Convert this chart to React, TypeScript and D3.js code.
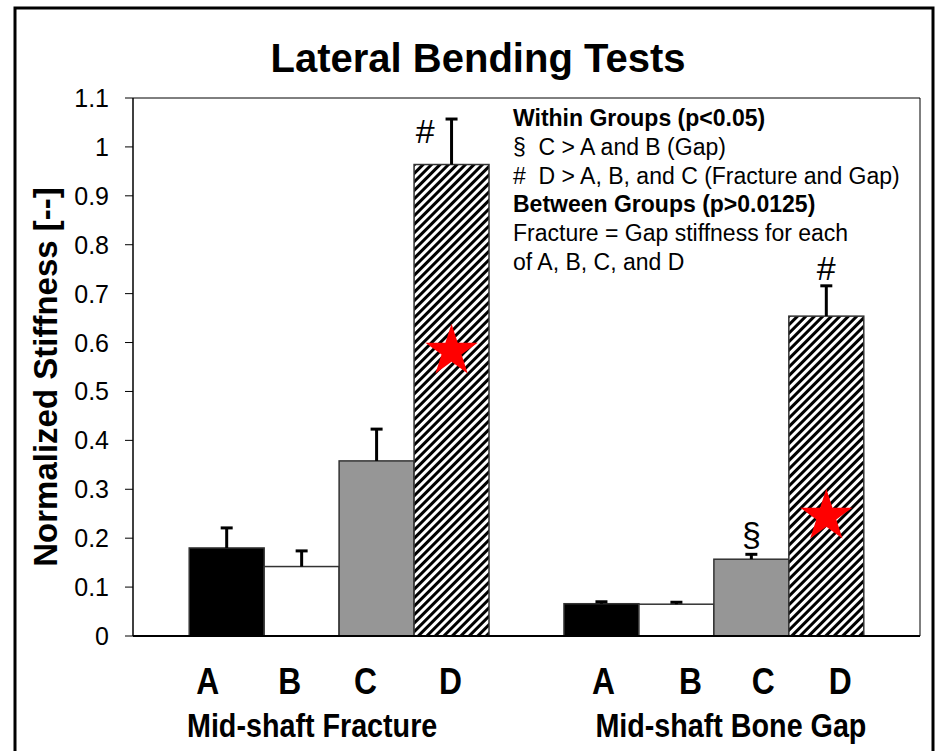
import React from 'react';
import * as d3 from 'd3';

// groups and conditions
const groups = ['Mid-shaft Fracture', 'Mid-shaft Bone Gap'];
const conditions = ['A', 'B', 'C', 'D'];

// mean normalized stiffness, and +SD error, per group
const fractureMeans = [0.18, 0.142, 0.358, 0.964];
const fractureErrors = [0.041, 0.032, 0.065, 0.093];
const gapMeans = [0.066, 0.065, 0.157, 0.654];
const gapErrors = [0.004, 0.004, 0.01, 0.062];

const yTicks = [0, 0.1, 0.2, 0.3, 0.4, 0.5, 0.6, 0.7, 0.8, 0.9, 1, 1.1];

// red stars drawn inside the D bars (value of star centre)
const starGroups = ['Mid-shaft Fracture', 'Mid-shaft Bone Gap'];
const starValues = [0.582, 0.245];

// significance symbols: group, condition, text, value of baseline
const symbolGroups = ['Mid-shaft Fracture', 'Mid-shaft Bone Gap', 'Mid-shaft Bone Gap'];
const symbolConds = ['D', 'D', 'C'];
const symbolTexts = ['#', '#', '§'];
const symbolValues = [1.008, 0.728, 0.184];

const noteLines = [
  'Within Groups (p<0.05)',
  '§  C > A and B (Gap)',
  '#  D > A, B, and C (Fracture and Gap)',
  'Between Groups (p>0.0125)',
  'Fracture = Gap stiffness for each',
  'of A, B, C, and D',
];
const noteBold = [true, false, false, true, false, false];

const fills = ['#000000', '#ffffff', '#969696', 'url(#hatch)'];

const font = '"Liberation Sans", Arial, Helvetica, sans-serif';

// the labels under the bars were placed by hand in the original, a bit off-centre
const catNudge = [[-19, -12, -11, -1], [2, 14, 12, 14]];
const groupNudge = [-27, 17];

export default function App() {
  const width = 936;
  const height = 751;
  const left = 133, right = 920, top = 98, bottom = 636;

  const x0 = d3.scaleBand().domain(groups).range([left, right]).paddingInner(0.2).paddingOuter(0.15);
  const x1 = d3.scaleBand().domain(conditions).range([0, x0.bandwidth()]);
  const y = d3.scaleLinear().domain([0, 1.1]).range([bottom, top]);

  const data = groups.flatMap((g, gi) =>
    conditions.map((c, ci) => ({
      group: g,
      gi,
      cond: c,
      ci,
      mean: gi === 0 ? fractureMeans[ci] : gapMeans[ci],
      err: gi === 0 ? fractureErrors[ci] : gapErrors[ci],
    }))
  );

  const barX = (g: string, c: string) => (x0(g) ?? 0) + (x1(c) ?? 0);
  const bw = x1.bandwidth();

  const starPath = (cx: number, cy: number, R: number) => {
    const r = R * 0.382;
    const pts: [number, number][] = d3.range(10).map(i => {
      const a = -Math.PI / 2 + (i * Math.PI) / 5;
      const rr = i % 2 === 0 ? R : r;
      return [cx + rr * Math.cos(a), cy + rr * Math.sin(a)];
    });
    return (d3.line()(pts) || '') + 'Z';
  };

  return (
    <svg width={width} height={height} style={{ position: 'absolute', left: 0, top: 0, background: '#fff' }} fontFamily={font}>
      <defs>
        <pattern id="hatch" patternUnits="userSpaceOnUse" width={6} height={6} patternTransform="rotate(45)">
          <rect width={6} height={6} fill="#fff" />
          <line x1={1.5} y1={0} x2={1.5} y2={6} stroke="#000" strokeWidth={3} />
        </pattern>
      </defs>
      <rect x={0} y={0} width={width} height={height} fill="#fff" />
      {/* outer frame */}
      <rect x={15} y={8} width={918} height={760} fill="none" stroke="#000" strokeWidth={3} />

      <text x={478} y={72} textAnchor="middle" fontSize={40} fontWeight="bold">Lateral Bending Tests</text>

      {/* plot box top/right */}
      <line x1={left} x2={right} y1={top} y2={top} stroke="#000" strokeWidth={1} />
      <line x1={right} x2={right} y1={top} y2={bottom} stroke="#000" strokeWidth={1} />

      {/* bars */}
      {data.map(d => (
        <rect key={d.group + d.cond} x={barX(d.group, d.cond)} y={y(d.mean)} width={bw} height={y(0) - y(d.mean)}
          fill={fills[d.ci]} stroke="#333" strokeWidth={1.5} />
      ))}

      {/* error bars */}
      {data.map(d => {
        const cx = barX(d.group, d.cond) + bw / 2;
        return (
          <g key={'e' + d.group + d.cond} stroke="#000" strokeWidth={3}>
            <line x1={cx} x2={cx} y1={y(d.mean)} y2={y(d.mean + d.err)} />
            <line x1={cx - 6} x2={cx + 6} y1={y(d.mean + d.err)} y2={y(d.mean + d.err)} />
          </g>
        );
      })}

      {/* stars */}
      {starValues.map((v, i) => (
        <path key={'s' + i} d={starPath(barX(starGroups[i], 'D') + bw / 2, y(v), 27.5)} fill="#ff0000" />
      ))}

      {/* significance symbols */}
      {symbolTexts.map((t, i) => {
        const shift = i === 0 ? -0.35 * bw : 0;
        return (
          <text key={'sym' + i} x={barX(symbolGroups[i], symbolConds[i]) + bw / 2 + shift} y={y(symbolValues[i])}
            textAnchor="middle" fontSize={34}>{t}</text>
        );
      })}

      {/* axes */}
      <line x1={left} x2={left} y1={top} y2={bottom} stroke="#000" strokeWidth={1.5} />
      <line x1={left} x2={right} y1={bottom} y2={bottom} stroke="#000" strokeWidth={2} />
      {yTicks.map(t => (
        <g key={'t' + t}>
          <line x1={left - 8} x2={left} y1={y(t)} y2={y(t)} stroke="#000" strokeWidth={1} />
          <text x={109} y={y(t)} dy="0.36em" textAnchor="end" fontSize={25}>{d3.format('~g')(t)}</text>
        </g>
      ))}

      <text transform={`translate(57,377) rotate(-90)`} textAnchor="middle" fontSize={33} fontWeight="bold">
        Normalized Stiffness [--]
      </text>

      {/* category labels (a little condensed, like the original) */}
      {data.map(d => (
        <text key={'c' + d.group + d.cond}
          transform={`translate(${barX(d.group, d.cond) + bw / 2 + catNudge[d.gi][d.ci]},694) scale(0.86,1)`}
          textAnchor="middle" fontSize={37} fontWeight="bold">{d.cond}</text>
      ))}
      {groups.map((g, gi) => (
        <text key={'g' + g}
          transform={`translate(${(x0(g) ?? 0) + x0.bandwidth() / 2 + groupNudge[gi]},737) scale(0.87,1)`}
          textAnchor="middle" fontSize={33} fontWeight="bold">{g}</text>
      ))}

      {/* notes */}
      {noteLines.map((l, i) => (
        <text key={'n' + i} x={513} y={126 + i * 28.8} fontSize={23} fontWeight={noteBold[i] ? 'bold' : 'normal'}
          style={{ whiteSpace: 'pre' }}>{l}</text>
      ))}
    </svg>
  );
}
